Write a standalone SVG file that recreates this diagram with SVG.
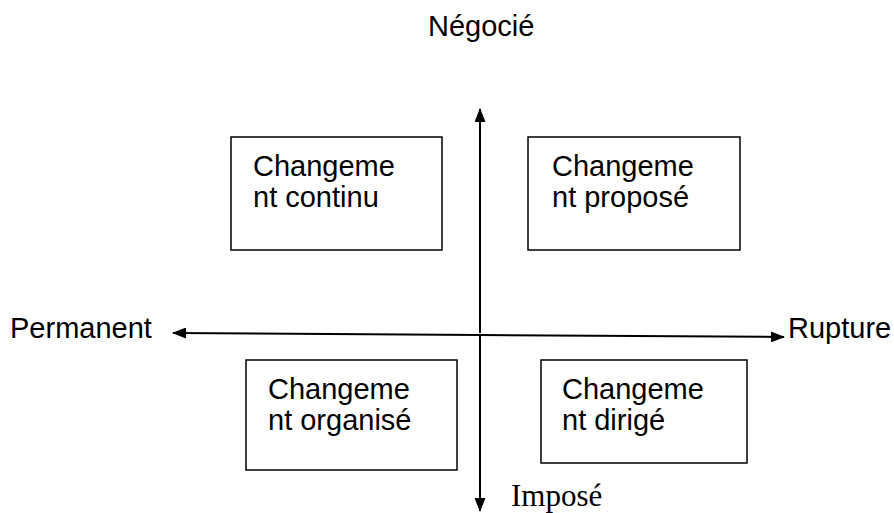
<svg xmlns="http://www.w3.org/2000/svg" width="894" height="513" viewBox="0 0 894 513">
<style>
.box{fill:#fff;stroke:#000;stroke-width:1.5}
.t{font-family:"Liberation Sans",Arial,sans-serif;font-size:29px;fill:#000}
.s{font-family:"Liberation Serif","Times New Roman",serif;font-size:31px;fill:#000}
.ax{stroke:#000;stroke-width:2;fill:none}
</style>
<defs>
<marker id="ah" markerWidth="14" markerHeight="11" refX="13" refY="5.5" orient="auto" markerUnits="userSpaceOnUse">
<path d="M0,0 L14,5.5 L0,11 Z" fill="#000"/>
</marker>
</defs>
<rect width="894" height="513" fill="#fff"/>
<g id="connectors">
<line class="ax" x1="480" y1="333" x2="480" y2="109" marker-end="url(#ah)"/>
<line class="ax" x1="480" y1="335" x2="480" y2="511" marker-end="url(#ah)"/>
<line class="ax" x1="480" y1="335" x2="173" y2="333" marker-end="url(#ah)"/>
<line class="ax" x1="480" y1="335" x2="784" y2="337" marker-end="url(#ah)"/>
</g>
<g id="label-negocie"><text class="t" x="428" y="36">Négocié</text></g>
<g id="label-permanent"><text class="t" x="10" y="338">Permanent</text></g>
<g id="label-rupture"><text class="t" x="788" y="338">Rupture</text></g>
<g id="label-impose"><text class="s" x="511" y="506">Imposé</text></g>
<g id="node-continu">
<rect class="box" x="231" y="137" width="211" height="113"/>
<text class="t" x="253" y="176">Changeme</text>
<text class="t" x="253" y="207">nt continu</text>
</g>
<g id="node-propose">
<rect class="box" x="528" y="137" width="212" height="113"/>
<text class="t" x="552" y="176">Changeme</text>
<text class="t" x="552" y="207">nt proposé</text>
</g>
<g id="node-organise">
<rect class="box" x="246" y="360" width="211" height="110"/>
<text class="t" x="268" y="399">Changeme</text>
<text class="t" x="268" y="430">nt organisé</text>
</g>
<g id="node-dirige">
<rect class="box" x="541" y="360" width="206" height="103"/>
<text class="t" x="562" y="399">Changeme</text>
<text class="t" x="562" y="430">nt dirigé</text>
</g>
</svg>
